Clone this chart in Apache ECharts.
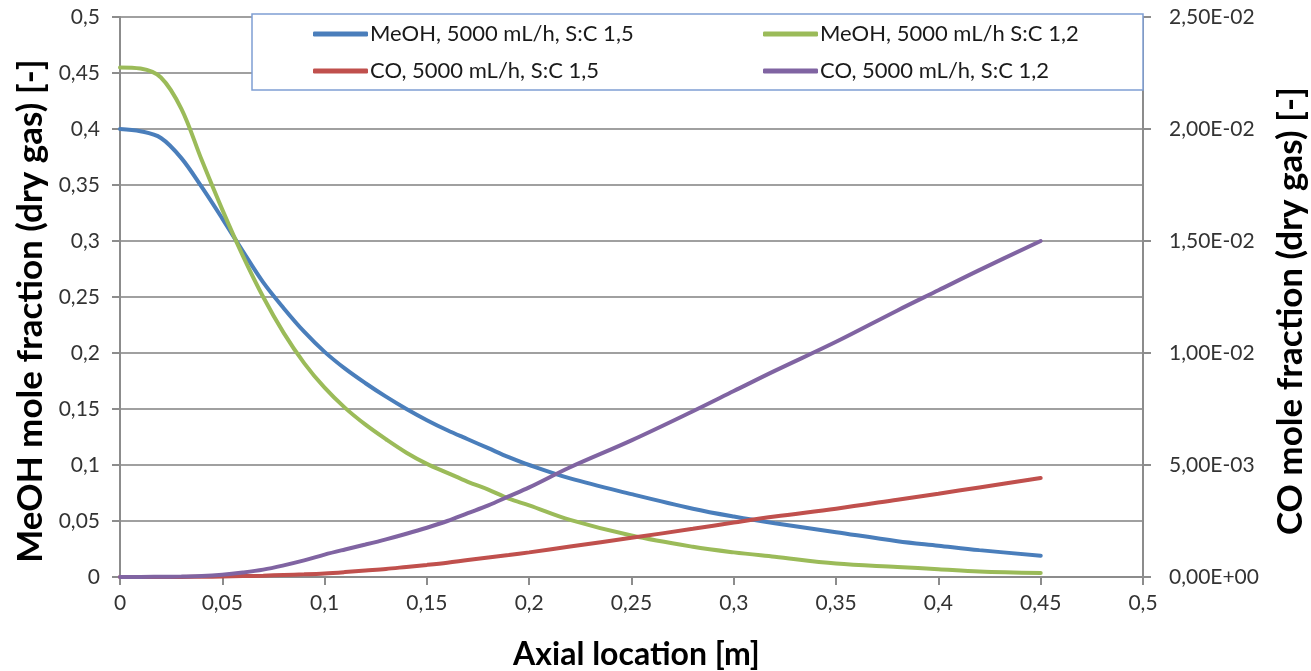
<!DOCTYPE html>
<html>
<head>
<meta charset="utf-8">
<title>MeOH and CO mole fraction along the reactor</title>
<script src="https://cdn.jsdelivr.net/npm/echarts@6/dist/echarts.min.js"></script>
<style>
  html, body { margin: 0; padding: 0; background: #ffffff; }
  #chart { width: 1311px; height: 671px; }
</style>
</head>
<body>
<div id="chart"></div>
<script>
// Axial positions [m]
const axialLocation = [0, 0.01, 0.02, 0.03, 0.04, 0.05, 0.06, 0.07, 0.08, 0.09, 0.1,
  0.11, 0.12, 0.13, 0.14, 0.15, 0.16, 0.17, 0.18, 0.19, 0.2, 0.22, 0.25, 0.28, 0.3,
  0.32, 0.35, 0.38, 0.4, 0.42, 0.45];

// MeOH mole fraction (dry gas), left axis
const meohSC15 = [0.400, 0.398, 0.392, 0.374, 0.348, 0.320, 0.291, 0.263, 0.240, 0.219, 0.201,
  0.186, 0.173, 0.161, 0.150, 0.140, 0.131, 0.123, 0.115, 0.107, 0.100, 0.088, 0.074, 0.061, 0.054,
  0.048, 0.040, 0.032, 0.028, 0.024, 0.019];
const meohSC12 = [0.455, 0.454, 0.446, 0.418, 0.372, 0.328, 0.287, 0.250, 0.218, 0.191, 0.169,
  0.151, 0.136, 0.123, 0.111, 0.101, 0.093, 0.085, 0.078, 0.070, 0.064, 0.051, 0.037, 0.027, 0.022,
  0.018, 0.012, 0.009, 0.007, 0.005, 0.0036];

// CO mole fraction (dry gas), right axis
const coSC15 = [0, 0, 0, 0, 0.00001, 0.00002, 0.00004, 0.00006, 0.00009, 0.00012, 0.00016,
  0.00022, 0.00029, 0.00036, 0.00045, 0.00054, 0.00064, 0.00076, 0.00087, 0.00098, 0.0011, 0.00136,
  0.00175, 0.00215, 0.00243, 0.0027, 0.00305, 0.00345, 0.00372, 0.004, 0.00442];
const coSC12 = [0, 0, 0.00001, 0.00002, 0.00004, 0.0001, 0.0002, 0.00033, 0.00052, 0.00074, 0.001,
  0.00123, 0.00145, 0.00168, 0.00193, 0.0022, 0.0025, 0.00285, 0.0032, 0.0036, 0.004, 0.0049,
  0.0061, 0.0074, 0.0083, 0.0092, 0.0105, 0.0119, 0.0128, 0.0137, 0.015];

const seriesNames = [
  'MeOH, 5000 mL/h, S:C 1,5',
  'MeOH, 5000 mL/h S:C 1,2',
  'CO, 5000 mL/h, S:C 1,5',
  'CO, 5000 mL/h, S:C 1,2'
];
const seriesColors = ['#4a7ebb', '#9bbb59', '#c0504d', '#8064a2'];

const FONT = 'Lato, "Open Sans", "DejaVu Sans", sans-serif';

function pairs(values) {
  return axialLocation.map((x, i) => [x, values[i]]);
}

function commaNumber(v) {
  return String(+v.toFixed(3)).replace('.', ',');
}

function sciComma(v) {
  if (Math.abs(v) < 1e-12) return '0,00E+00';
  const exp = Math.floor(Math.log10(Math.abs(v)) + 1e-9);
  const mant = v / Math.pow(10, exp);
  const sign = exp < 0 ? '-' : '+';
  const e = String(Math.abs(exp)).padStart(2, '0');
  return mant.toFixed(2).replace('.', ',') + 'E' + sign + e;
}

const gray = '#8c8c8c';

const chart = echarts.init(document.getElementById('chart'), null, { renderer: 'canvas' });

function makeLegend(name, left, top) {
  return {
    data: [name],
    left: left,
    top: top,
    orient: 'horizontal',
    icon: 'roundRect',
    itemWidth: 55,
    itemHeight: 5,
    itemGap: 0,
    padding: 0,
    selectedMode: false,
    textStyle: { fontFamily: FONT, fontSize: 22, color: '#1a1a1a', padding: [0, 0, 0, -3] }
  };
}

// vertical titles sit a little below the plot centre
const axisNameStyle = {
  fontFamily: FONT, fontSize: 35, fontWeight: 'bold', color: '#000000', padding: [0, 28, 0, 0]
};
const tickLabelStyle = { fontFamily: FONT, fontSize: 21, color: '#333333' };

const option = {
  backgroundColor: '#ffffff',
  animation: false,
  grid: { left: 120, right: 168, top: 17, bottom: 94, containLabel: false, outerBoundsMode: 'none' },
  graphic: [{
    type: 'rect',
    z: 3,
    shape: { x: 252, y: 14, width: 891, height: 76 },
    style: { fill: '#ffffff', stroke: '#7f9fd3', lineWidth: 1.5 }
  }],
  legend: [
    makeLegend(seriesNames[0], 313, 23),
    makeLegend(seriesNames[1], 763, 23),
    makeLegend(seriesNames[2], 313, 60),
    makeLegend(seriesNames[3], 763, 60)
  ],
  xAxis: {
    type: 'value',
    min: 0, max: 0.5, interval: 0.05,
    name: 'Axial location [m]',
    nameLocation: 'middle',
    nameGap: 62,
    nameTextStyle: { fontFamily: FONT, fontSize: 32, fontWeight: 'bold', color: '#000000', padding: [0, 0, 0, 10] },
    axisLine: { show: true, lineStyle: { color: gray, width: 2 } },
    axisTick: { show: true, inside: false, length: 8, lineStyle: { color: gray, width: 2 } },
    axisLabel: Object.assign({ margin: 16, formatter: commaNumber }, tickLabelStyle),
    splitLine: { show: false }
  },
  yAxis: [{
    type: 'value',
    position: 'left',
    min: 0, max: 0.5, interval: 0.05,
    name: 'MeOH mole fraction (dry gas) [-]',
    nameLocation: 'middle',
    nameRotate: 90,
    nameGap: 72,
    nameTextStyle: axisNameStyle,
    axisLine: { show: true, lineStyle: { color: gray, width: 2 } },
    axisTick: { show: true, inside: false, length: 8, lineStyle: { color: gray, width: 2 } },
    axisLabel: Object.assign({ margin: 20, formatter: commaNumber }, tickLabelStyle),
    splitLine: { show: true, lineStyle: { color: '#a0a0a0', width: 2 } }
  }, {
    type: 'value',
    position: 'right',
    min: 0, max: 0.025, interval: 0.005,
    name: 'CO mole fraction (dry gas) [-]',
    nameLocation: 'middle',
    nameRotate: 90,
    nameGap: 130,
    nameTextStyle: axisNameStyle,
    axisLine: { show: true, lineStyle: { color: gray, width: 2 } },
    axisTick: { show: true, inside: false, length: 8, lineStyle: { color: gray, width: 2 } },
    axisLabel: Object.assign({ margin: 26, formatter: sciComma }, tickLabelStyle),
    splitLine: { show: false }
  }],
  series: [
    { name: seriesNames[0], data: pairs(meohSC15), yAxisIndex: 0 },
    { name: seriesNames[1], data: pairs(meohSC12), yAxisIndex: 0 },
    { name: seriesNames[2], data: pairs(coSC15), yAxisIndex: 1 },
    { name: seriesNames[3], data: pairs(coSC12), yAxisIndex: 1 }
  ].map((s, i) => Object.assign({
    type: 'line',
    smooth: 0.35,
    showSymbol: false,
    symbol: 'none',
    color: seriesColors[i],
    lineStyle: { width: 4, color: seriesColors[i], cap: 'round' },
    z: 2
  }, s))
};

chart.setOption(option);
</script>
</body>
</html>
